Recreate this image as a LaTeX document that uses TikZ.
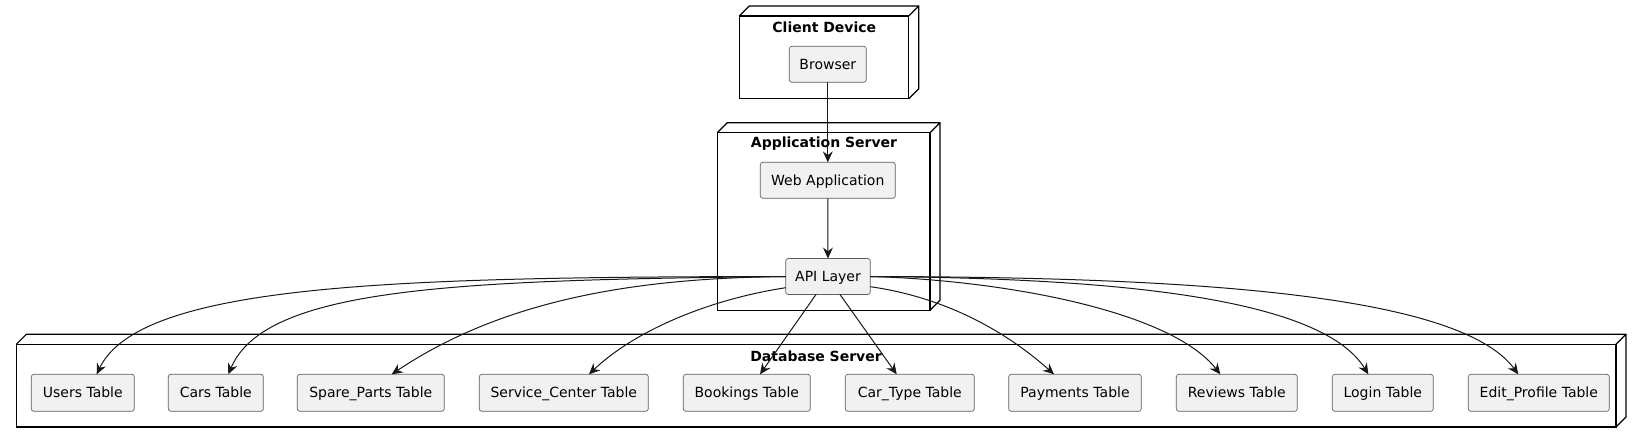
\documentclass[tikz,border=0pt]{standalone}
\usepackage{fontspec}
\setmainfont{DejaVu Sans}
\usetikzlibrary{arrows.meta,calc}
\definecolor{boxfill}{HTML}{F1F1F1}
\definecolor{boxline}{HTML}{5E5E5E}
\definecolor{lineclr}{HTML}{181818}
\newcommand\extrudebox[1]{%
  \draw[nodeborder] (#1.north west) -- ++(10,-10) -- ($(#1.north east)+(10,-10)$)
    -- ($(#1.south east)+(10,-10)$) -- (#1.south east)
    (#1.north east) -- ++(10,-10);}
\begin{document}
\begin{tikzpicture}[x=0.75pt,y=-0.75pt,
  nodeborder/.style={draw=black, line width=0.9pt, line join=miter},
  container/.style={nodeborder, fill=white, inner sep=0pt, outer sep=0pt},
  title/.style={anchor=base, inner sep=0pt, font=\bfseries\fontsize{10.5}{12}\selectfont},
  comp/.style={draw=boxline, line width=0.5pt, fill=boxfill, rounded corners=1.9pt,
    inner sep=0pt, outer sep=0pt, text height=7.65pt, text depth=0pt,
    font=\fontsize{10.5}{12}\selectfont, minimum width=#1*0.75pt, minimum height=36*0.75pt},
  tbl/.style={comp=#1, minimum height=37*0.75pt},
  arr/.style={draw=lineclr, line width=0.75pt, -{Stealth[length=8.2pt,width=7.4pt,inset=2.8pt]}}
]
\useasboundingbox (0,0) rectangle (1642,443);

% containers
\node[container, minimum width=169.4*0.75pt, minimum height=82.7*0.75pt] (client) at (824,57.35) {};
\extrudebox{client}
\node[title] (clienttitle) at (824.3,32.3) {Client Device};

\node[container, minimum width=212.7*0.75pt, minimum height=177.6*0.75pt] (appsrv) at (823.65,221.5) {};
\extrudebox{appsrv}
\node[title] (apptitle) at (824,147.7) {Application Server};

\node[container, minimum width=1599.7*0.75pt, minimum height=82.7*0.75pt] (dbsrv) at (816.15,385.65) {};
\extrudebox{dbsrv}
\node[title] (dbtitle) at (816,361.7) {Database Server};

% components
\node[comp=77] (browser) at (827.8,64.3) {Browser};
\node[comp=135] (web) at (827.8,180.3) {Web Application};
\node[comp=84.6] (api) at (828,276.5) {API Layer};

\node[tbl=103] (users) at (82.8,392.8) {Users Table};
\node[tbl=95] (cars) at (215.8,392.8) {Cars Table};
\node[tbl=147] (spare) at (370.8,392.8) {Spare\_Parts Table};
\node[tbl=169] (service) at (563.8,392.8) {Service\_Center Table};
\node[tbl=127] (bookings) at (746.8,392.8) {Bookings Table};
\node[tbl=129] (cartype) at (909.8,392.8) {Car\_Type Table};
\node[tbl=132.6] (payments) at (1075,392.8) {Payments Table};
\node[tbl=121] (reviews) at (1236.8,392.8) {Reviews Table};
\node[tbl=101] (login) at (1382.8,392.8) {Login Table};
\node[tbl=141] (editprofile) at (1538.8,392.8) {Edit\_Profile Table};

% connectors
\draw[arr] (browser) -- (web);
\draw[arr] (web) -- (api);

\draw[arr] (api.west) .. controls (400,277) and (140,283) .. ($(users.north)+(13.9,0)$);
\draw[arr] (api.west) .. controls (450,280) and (265,288) .. ($(cars.north)+(12.5,0)$);
\draw[arr] (api.west) .. controls (650,278) and (510,295) .. ($(spare.north)+(20.9,0)$);
\draw[arr] ($(api.west)+(0,11.2)$) .. controls (700,301) and (630,335) .. ($(service.north)+(25.2,0)$);
\draw[arr] ($(api.south)+(-12,0)$) -- ($(bookings.north)+(13.2,0)$);
\draw[arr] ($(api.south)+(12,0)$) -- ($(cartype.north)+(-13.1,0)$);
\draw[arr] ($(api.east)+(0,10.2)$) .. controls (950,298) and (1010,335) .. ($(payments.north)+(-21,0)$);
\draw[arr] (api.east) .. controls (1000,280) and (1170,310) .. ($(reviews.north)+(-16.5,0)$);
\draw[arr] (api.east) .. controls (1100,278) and (1320,295) .. ($(login.north)+(-14.5,0)$);
\draw[arr] (api.east) .. controls (1200,277) and (1460,295) .. ($(editprofile.north)+(-20.5,0)$);
\end{tikzpicture}
\end{document}
